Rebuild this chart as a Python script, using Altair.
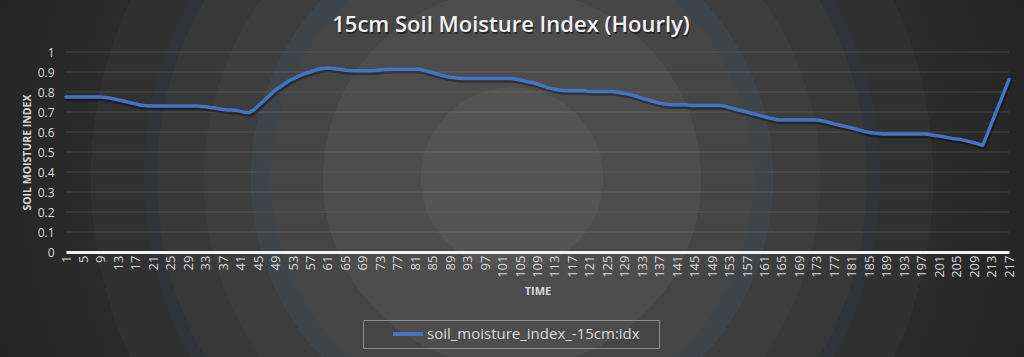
import altair as alt
import pandas as pd

# ---------------- data ----------------
hours = list(range(1, 218))
moisture = [
    0.775, 0.775, 0.775, 0.775, 0.775, 0.775, 0.775, 0.775, 0.775,          # 1-9
    0.773, 0.770, 0.765, 0.760, 0.756, 0.750, 0.745, 0.740, 0.735, 0.732, 0.730,  # 10-20
    0.730, 0.730, 0.730, 0.730, 0.730, 0.730, 0.730, 0.730, 0.730, 0.730, 0.730,  # 21-31
    0.728, 0.726, 0.723, 0.720, 0.716, 0.712, 0.710, 0.710, 0.708, 0.703,   # 32-41
    0.698, 0.697, 0.710, 0.730, 0.750, 0.770, 0.790, 0.810, 0.825, 0.840,   # 42-51
    0.855, 0.866, 0.876, 0.886, 0.894, 0.900, 0.908, 0.915, 0.918, 0.920,   # 52-61
    0.918, 0.915, 0.912, 0.909, 0.907,                                      # 62-66
    0.906, 0.906, 0.906, 0.906, 0.906,                                      # 67-71
    0.908, 0.910, 0.912, 0.913,                                             # 72-75
    0.914, 0.914, 0.914, 0.914, 0.914, 0.914,                               # 76-81
    0.912, 0.908, 0.902, 0.896, 0.890, 0.884, 0.878, 0.874, 0.871, 0.869,   # 82-91
    0.867, 0.867, 0.867, 0.867, 0.867, 0.867, 0.867, 0.867, 0.867, 0.867, 0.867, 0.867,  # 92-103
    0.864, 0.860, 0.855, 0.850, 0.846, 0.840, 0.832, 0.824, 0.818, 0.814, 0.810, 0.808,  # 104-115
    0.806, 0.806, 0.806, 0.806, 0.806,                                      # 116-120
    0.802, 0.802, 0.802, 0.802, 0.802, 0.802,                               # 121-126
    0.800, 0.796, 0.792, 0.788, 0.782, 0.776, 0.768, 0.762, 0.756, 0.750, 0.744, 0.740, 0.738,  # 127-139
    0.736, 0.736, 0.736, 0.736,                                             # 140-143
    0.732, 0.732, 0.732, 0.732, 0.732, 0.732, 0.732, 0.732,                 # 144-151
    0.728, 0.722, 0.716, 0.710, 0.705, 0.700, 0.694, 0.688, 0.682, 0.676, 0.670, 0.666,  # 152-163
    0.660, 0.660, 0.660, 0.660, 0.660, 0.660, 0.660, 0.660, 0.660, 0.660,   # 164-173
    0.656, 0.652, 0.646, 0.640, 0.635, 0.630, 0.625, 0.620, 0.614, 0.608, 0.602, 0.598, 0.595, 0.593,  # 174-187
    0.590, 0.590, 0.590, 0.590, 0.590, 0.590, 0.590, 0.590, 0.590, 0.590, 0.590,  # 188-198
    0.586, 0.583, 0.580, 0.576, 0.572, 0.568, 0.565, 0.562, 0.557, 0.552,   # 199-208
    0.546, 0.540, 0.534, 0.588, 0.643, 0.698, 0.752, 0.807, 0.862,          # 209-217
]
assert len(moisture) == len(hours)

series_name = "soil_moisture_index_-15cm:idx"
title_text = "15cm Soil Moisture Index (Hourly)"
x_title = "TIME"
y_title = "SOIL MOISTURE INDEX"
y_ticks = [0, 0.1, 0.2, 0.3, 0.4, 0.5, 0.6, 0.7, 0.8, 0.9, 1.0]
x_ticks = list(range(1, 218, 4))

df = pd.DataFrame({"hour": hours, "value": moisture, "series": series_name})
grid_df = pd.DataFrame({"value": y_ticks[1:]})
one = pd.DataFrame({"a": [0]})

# ---------------- layout ----------------
W, H = 943, 200
PL, PT, PR, PB = 66, 52, 15, 105
FONT = "Open Sans"
TXT = "#d9d9d9"

xscale = alt.Scale(domain=[1, 217], nice=False, zero=False)
yscale = alt.Scale(domain=[0, 1], nice=False)

x_axis = alt.Axis(
    values=x_ticks, labelAngle=270, labelAlign="right", labelBaseline="middle",
    labelPadding=3, ticks=False, grid=False, labelOverlap=False, labelFlush=False,
    domainColor="#f2f2f2", domainWidth=3,
    labelFont=FONT, labelFontSize=13, labelColor=TXT,
    title=x_title, titleFont=FONT, titleFontSize=11, titleFontWeight="bold",
    titleColor=TXT, titlePadding=8, zindex=1,
)
y_axis = alt.Axis(
    values=y_ticks, format=".1~f", grid=False, domain=False, ticks=False,
    labelPadding=12, labelOverlap=False, labelFlush=False,
    labelFont=FONT, labelFontSize=12, labelColor=TXT,
    title=y_title, titleFont=FONT, titleFontSize=10.5, titleFontWeight="bold",
    titleColor=TXT, titlePadding=5, zindex=1,
)

# radial background (Excel style concentric bands)
R = 563.0
def st(r, c):
    return {"offset": round(r / R, 4), "color": c}

stops = [
    st(0, "#545454"), st(91, "#545454"),
    st(91, "#4d4d4d"), st(189, "#4d4d4d"),
    st(189, "#454545"), st(241, "#454545"),
    st(241, "#3f4448"), st(261, "#3f4448"),
    st(261, "#3d3d3d"), st(308, "#3d3d3d"),
    st(308, "#383838"), st(355, "#383838"),
    st(355, "#303438"), st(368, "#303438"),
    st(368, "#313131"), st(421, "#313131"),
    st(421, "#2b2b2b"), st(563, "#232323"),
]
bg = alt.Chart(one).mark_rect(
    fill={"gradient": "radial", "stops": stops,
          "x1": 0.5, "y1": 0.5, "r1": 0, "x2": 0.5, "y2": 0.5, "r2": 0.55},
).encode(
    x=alt.value(-PL), x2=alt.value(W + PR),
    y=alt.value(-PT), y2=alt.value(H + PB),
)

grid = alt.Chart(grid_df).mark_rule(color="#808080", opacity=0.35, strokeWidth=1).encode(
    y=alt.Y("value:Q", scale=yscale, axis=y_axis)
)

shadow = alt.Chart(df).mark_line(
    color="#000000", opacity=0.35, strokeWidth=4.5, xOffset=1, yOffset=2,
    strokeJoin="round", strokeCap="round",
).encode(
    x=alt.X("hour:Q", scale=xscale, axis=x_axis),
    y=alt.Y("value:Q", scale=yscale, axis=y_axis),
)

line = alt.Chart(df).mark_line(strokeWidth=3.5, strokeJoin="round", strokeCap="round").encode(
    x=alt.X("hour:Q", scale=xscale, axis=x_axis),
    y=alt.Y("value:Q", scale=yscale, axis=y_axis),
    color=alt.Color(
        "series:N", scale=alt.Scale(range=["#4472c4"]),
        legend=alt.Legend(
            orient="none", legendX=325, legendY=265, title=None, padding=0,
            symbolType="stroke", symbolSize=900, symbolStrokeWidth=4,
            labelOffset=2, labelLimit=0, labelFont=FONT, labelFontSize=15, labelColor=TXT,
        ),
    ),
)

legend_box = alt.Chart(one).mark_rect(
    fillOpacity=0, stroke="#8c8c8c", strokeWidth=1
).encode(
    x=alt.value(297.5), x2=alt.value(593.5), y=alt.value(268.5), y2=alt.value(296.5)
)

title_shadow = alt.Chart(one).mark_text(
    text=title_text, font=FONT, fontSize=22, fontWeight=600, color="#000000",
    opacity=0.5, align="center", baseline="alphabetic",
).encode(x=alt.value(446), y=alt.value(-18.5))

title = alt.Chart(one).mark_text(
    text=title_text, font=FONT, fontSize=22, fontWeight=600, color="#f2f2f2",
    align="center", baseline="alphabetic",
).encode(x=alt.value(445), y=alt.value(-20))

chart = alt.layer(bg, grid, shadow, line, legend_box, title_shadow, title).properties(
    width=W, height=H,
    padding={"left": PL, "top": PT, "right": PR, "bottom": PB},
    autosize=alt.AutoSizeParams(type="none"),
    background="#262626",
).configure_view(stroke=None)

chart.save("out.html", embed_options={"renderer": "svg", "actions": False})
